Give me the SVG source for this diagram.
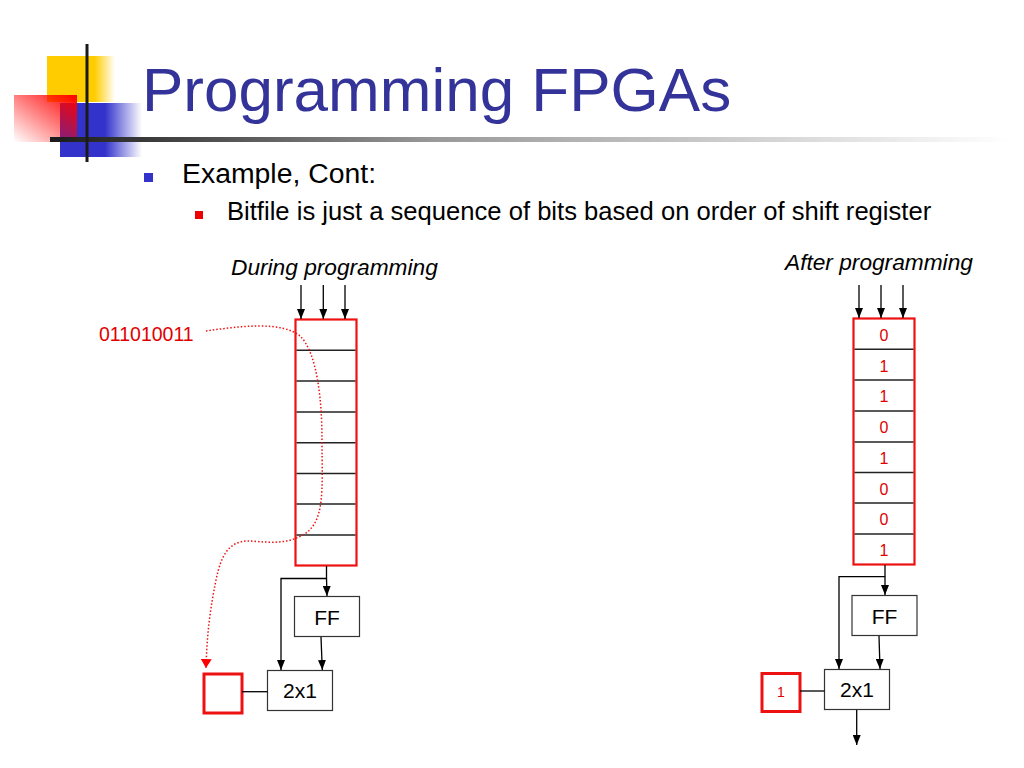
<svg xmlns="http://www.w3.org/2000/svg" width="1024" height="768" viewBox="0 0 1024 768">
<defs>
<linearGradient id="gYellow" x1="0" y1="0" x2="1" y2="0">
<stop offset="0" stop-color="#ffcc00"/><stop offset="0.7" stop-color="#ffcc00"/><stop offset="1" stop-color="#ffcc00" stop-opacity="0"/>
</linearGradient>
<linearGradient id="gRed" x1="1" y1="0" x2="0" y2="1">
<stop offset="0" stop-color="#ff0000"/><stop offset="1" stop-color="#ff0000" stop-opacity="0"/>
</linearGradient>
<linearGradient id="gBlue" x1="0" y1="0" x2="1" y2="0">
<stop offset="0" stop-color="#3333cc"/><stop offset="0.55" stop-color="#3333cc"/><stop offset="1" stop-color="#3333cc" stop-opacity="0"/>
</linearGradient>
<linearGradient id="gBar" x1="0" y1="0" x2="1" y2="0">
<stop offset="0" stop-color="#1a1a1a"/><stop offset="0.4" stop-color="#999999"/><stop offset="1" stop-color="#ffffff"/>
</linearGradient>
<marker id="ah" viewBox="0 0 10 10" refX="10" refY="5" markerWidth="10" markerHeight="8" markerUnits="userSpaceOnUse" orient="auto" preserveAspectRatio="none">
<path d="M0,0 L10,5 L0,10 Z" fill="#000"/>
</marker>
<marker id="ahRed" viewBox="0 0 10 10" refX="10" refY="5" markerWidth="9" markerHeight="11" markerUnits="userSpaceOnUse" orient="auto" preserveAspectRatio="none">
<path d="M0,0 L10,5 L0,10 Z" fill="#ff0000"/>
</marker>
</defs>
<style>
.title{font-family:"Liberation Sans",Arial,sans-serif;font-size:62px;fill:#333399}
.l1{font-family:"Liberation Sans",Arial,sans-serif;font-size:28.4px;fill:#000}
.l2{font-family:"Liberation Sans",Arial,sans-serif;font-size:25.6px;fill:#000}
.cap{font-family:"Liberation Sans",Arial,sans-serif;font-size:22.7px;font-style:italic;fill:#000}
.bits{font-family:"Liberation Sans",Arial,sans-serif;font-size:19.5px;fill:#e00000}
.dig{font-family:"Liberation Sans",Arial,sans-serif;font-size:16px;fill:#e00000;text-anchor:middle}
.box{fill:#fff;stroke:#333;stroke-width:1.2}
.lbl{font-family:"Liberation Sans",Arial,sans-serif;font-size:21px;fill:#000;text-anchor:middle}
.reg{fill:#fff;stroke:#ee1111;stroke-width:2.2}
.cell{stroke:#222;stroke-width:1.4}
.wire{fill:none;stroke:#000;stroke-width:1.3}
.arr{fill:none;stroke:#000;stroke-width:1.3;marker-end:url(#ah)}
.rbox{fill:#fff;stroke:#ee1111;stroke-width:3}
</style>
<rect width="1024" height="768" fill="#fff"/>

<g id="logo">
<rect x="47" y="56" width="68" height="46" fill="url(#gYellow)"/>
<rect x="60" y="103" width="82" height="54" fill="url(#gBlue)"/>
<rect x="14" y="95" width="63" height="47" fill="url(#gRed)"/>
<rect x="50" y="137" width="960" height="5" fill="url(#gBar)"/>
<rect x="85.5" y="44" width="3" height="118" fill="#1a1a1a"/>
</g>

<g id="title"><text class="title" x="142" y="111">Programming FPGAs</text></g>
<g id="bullets">
<rect x="144" y="173" width="9" height="9" fill="#3333cc"/>
<text class="l1" x="182" y="183">Example, Cont:</text>
<rect x="195" y="211" width="8" height="8" fill="#ee0000"/>
<text class="l2" x="227" y="220">Bitfile is just a sequence of bits based on order of shift register</text>
</g>

<g id="caption-during"><text class="cap" x="231" y="275">During programming</text></g>
<g id="caption-after"><text class="cap" x="785" y="270">After programming</text></g>
<g id="bitstring"><text class="bits" x="99" y="341">011010011</text></g>

<g id="register-left">
<rect class="reg" x="295.5" y="319.5" width="61" height="246"/>
<line class="cell" x1="296.5" y1="350.3" x2="355.5" y2="350.3"/>
<line class="cell" x1="296.5" y1="381" x2="355.5" y2="381"/>
<line class="cell" x1="296.5" y1="412" x2="355.5" y2="412"/>
<line class="cell" x1="296.5" y1="442.7" x2="355.5" y2="442.7"/>
<line class="cell" x1="296.5" y1="473.5" x2="355.5" y2="473.5"/>
<line class="cell" x1="296.5" y1="504" x2="355.5" y2="504"/>
<line class="cell" x1="296.5" y1="535" x2="355.5" y2="535"/>
</g>

<g id="ff-left"><rect class="box" x="294.5" y="596.5" width="65" height="40"/><text class="lbl" x="327" y="625">FF</text></g>
<g id="mux-left"><rect class="box" x="267.5" y="670.5" width="65" height="40"/><text class="lbl" x="300" y="698">2x1</text></g>
<g id="out-left"><rect class="rbox" x="204" y="674" width="38" height="39"/></g>

<g id="register-right">
<rect class="reg" x="853.5" y="318.5" width="61" height="246"/>
<line class="cell" x1="854.5" y1="349.3" x2="913.5" y2="349.3"/>
<line class="cell" x1="854.5" y1="380" x2="913.5" y2="380"/>
<line class="cell" x1="854.5" y1="411" x2="913.5" y2="411"/>
<line class="cell" x1="854.5" y1="442" x2="913.5" y2="442"/>
<line class="cell" x1="854.5" y1="472.5" x2="913.5" y2="472.5"/>
<line class="cell" x1="854.5" y1="503" x2="913.5" y2="503"/>
<line class="cell" x1="854.5" y1="534" x2="913.5" y2="534"/>
<text class="dig" x="884" y="340.5">0</text>
<text class="dig" x="884" y="371.5">1</text>
<text class="dig" x="884" y="402">1</text>
<text class="dig" x="884" y="433">0</text>
<text class="dig" x="884" y="463.5">1</text>
<text class="dig" x="884" y="494.5">0</text>
<text class="dig" x="884" y="525">0</text>
<text class="dig" x="884" y="556">1</text>
</g>

<g id="ff-right"><rect class="box" x="852" y="595.5" width="65" height="40"/><text class="lbl" x="884.5" y="624">FF</text></g>
<g id="mux-right"><rect class="box" x="824.5" y="669.5" width="65" height="40"/><text class="lbl" x="857" y="697">2x1</text></g>
<g id="out-right"><rect class="rbox" x="762" y="673.5" width="38" height="38"/><text class="dig" x="781" y="697" style="font-size:14px">1</text></g>

<g id="connectors">
<line class="arr" x1="301" y1="285" x2="301" y2="319"/>
<line class="arr" x1="323.3" y1="285" x2="323.3" y2="319"/>
<line class="arr" x1="345" y1="285" x2="345" y2="319"/>
<line class="wire" x1="326.5" y1="566" x2="326.5" y2="578.5"/>
<line class="arr" x1="326.5" y1="578" x2="327" y2="596"/>
<polyline class="arr" points="327,578.5 281,578.5 281,670"/>
<line class="arr" x1="321" y1="637" x2="322.3" y2="670"/>
<line class="wire" x1="242" y1="691.7" x2="267.5" y2="691.7"/>

<line class="arr" x1="859" y1="285" x2="859" y2="318"/>
<line class="arr" x1="881" y1="285" x2="881" y2="318"/>
<line class="arr" x1="903" y1="285" x2="903" y2="318"/>
<line class="wire" x1="885" y1="565" x2="885" y2="577"/>
<line class="arr" x1="885" y1="576.7" x2="885" y2="595"/>
<polyline class="arr" points="885,576.7 839,576.7 839,669"/>
<line class="arr" x1="879" y1="636" x2="880" y2="669"/>
<line class="wire" x1="800" y1="691" x2="824.5" y2="691"/>
<line class="arr" x1="856.7" y1="710" x2="856.7" y2="745"/>

<path d="M206,331 C240,326 282,321 300,336 C317,352 322,400 322,440 C322,490 326,524 301,536 C281,546 262,541 247,541 C228,542 221,556 216,580 C211,605 207,630 206,668" fill="none" stroke="#ee1111" stroke-width="1.5" stroke-dasharray="1.5 2" marker-end="url(#ahRed)"/>
</g>
</svg>
